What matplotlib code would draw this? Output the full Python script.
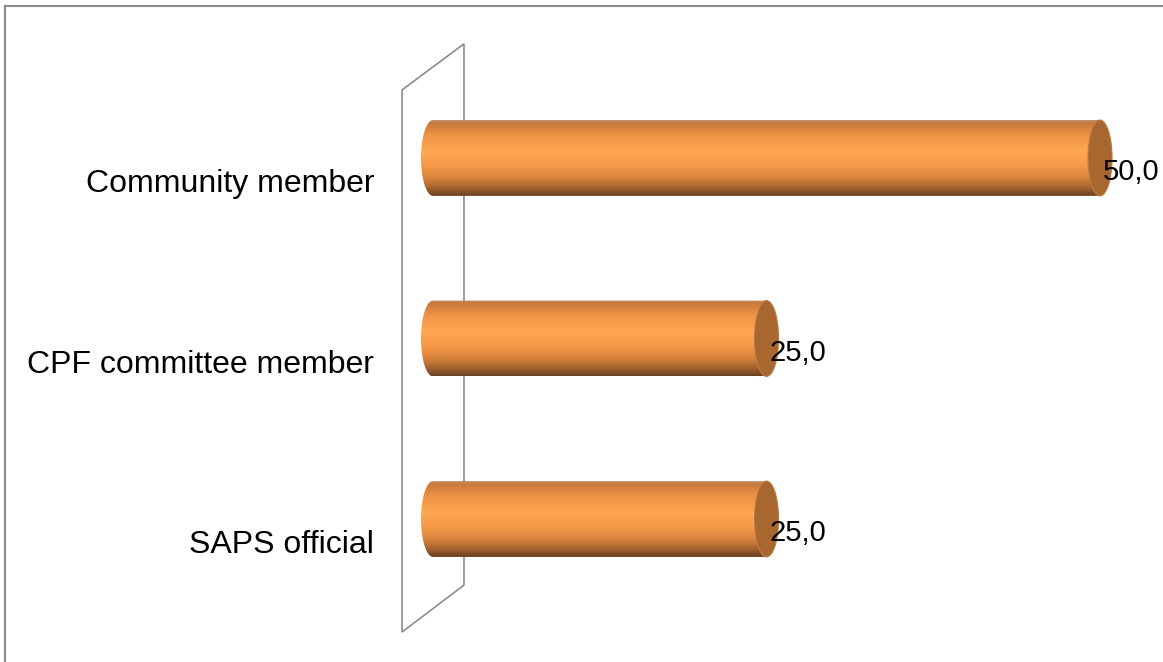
import numpy as np
import matplotlib.pyplot as plt
from matplotlib.patches import Ellipse, Polygon, PathPatch
from matplotlib.path import Path
from matplotlib.lines import Line2D
from matplotlib.colors import LinearSegmentedColormap

plt.rcParams['font.family'] = ['Liberation Sans', 'DejaVu Sans']

categories = ['Community member', 'CPF committee member', 'SAPS official']
values = [50.0, 25.0, 25.0]
value_labels = ['50,0', '25,0', '25,0']

# vertical shading of the cylinders, top edge -> bottom edge
shade = LinearSegmentedColormap.from_list('cyl', [
    (0.00, '#b98e6c'), (0.04, '#c9793c'), (0.20, '#ef9347'),
    (0.42, '#ffa851'), (0.60, '#f6994a'), (0.76, '#d9843d'),
    (0.89, '#a5642f'), (1.00, '#694020')])

fig = plt.figure(figsize=(11.63, 6.62), dpi=100)
ax = fig.add_axes([0, 0, 1, 1])
xlim = (-32.46, 54.72)
ylim = (2.792, -0.875)

half_h = 0.21   # half bar thickness (category units)
cap_a = 0.9     # half width of the end ellipses (value units)

# back wall of the 3d chart
wall = Polygon([(-2.32, -0.377), (2.32, -0.632), (2.32, 2.366), (-2.32, 2.626)],
               closed=True, facecolor='none', edgecolor='#8c8c8c', lw=1.2, zorder=1)
ax.add_patch(wall)

grad = np.linspace(0, 1, 256).reshape(-1, 1)
for i, (cat, v, lab) in enumerate(zip(categories, values, value_labels)):
    t = np.linspace(np.pi / 2, 3 * np.pi / 2, 60)
    xs = list(cap_a * np.cos(t)) + [v, v]
    ys = list(i - half_h * np.sin(t)) + [i + half_h, i - half_h]
    verts = list(zip(xs, ys)) + [(xs[0], ys[0])]
    codes = [Path.MOVETO] + [Path.LINETO] * (len(verts) - 2) + [Path.CLOSEPOLY]
    body = PathPatch(Path(verts, codes), facecolor='none', edgecolor='none')
    ax.add_patch(body)
    im = ax.imshow(grad, cmap=shade, aspect='auto', origin='upper',
                   extent=(-cap_a, v, i + half_h, i - half_h), zorder=2)
    im.set_clip_path(body)

    cap = Ellipse((v, i), 2 * cap_a, 2 * half_h, facecolor='#a8672f',
                  edgecolor='#b87a45', lw=0.8, zorder=3)
    ax.add_patch(cap)

    ax.text(-4.42, i + 0.19, cat, ha='right', va='baseline', fontsize=23, color='black')
    ax.text(v + 0.2, i + 0.122, lab, ha='left', va='baseline', fontsize=21,
            color='black', zorder=4)

ax.set_xlim(*xlim)
ax.set_ylim(*ylim)
ax.axis('off')

# chart area outline
fig.add_artist(Line2D([5 / 1163, 1], [1 - 6 / 662, 1 - 6 / 662],
                      transform=fig.transFigure, color='#8a8a8a', lw=1.5))
fig.add_artist(Line2D([5 / 1163, 5 / 1163], [0, 1 - 6 / 662],
                      transform=fig.transFigure, color='#8a8a8a', lw=1.5))

fig.savefig('out.png', dpi=100)
